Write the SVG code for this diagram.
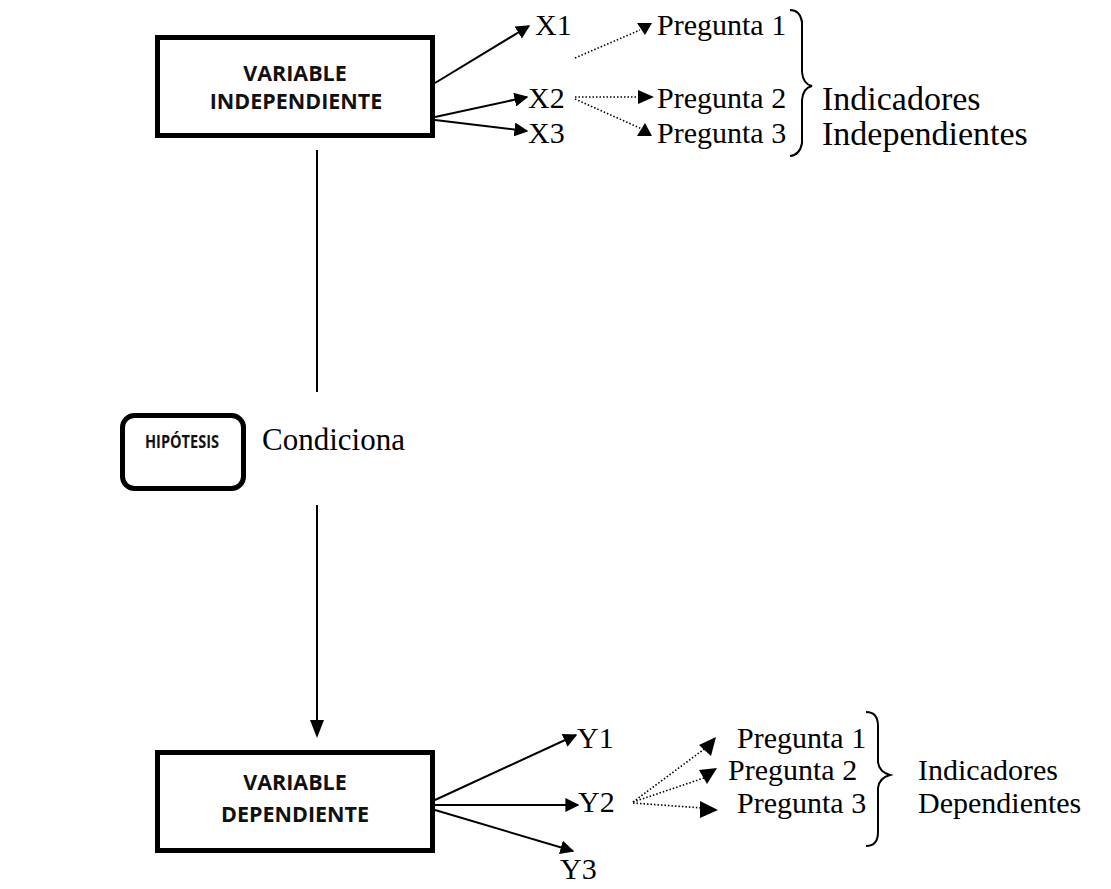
<svg xmlns="http://www.w3.org/2000/svg" width="1111" height="889" viewBox="0 0 1111 889">
<defs>
<style>
.box{fill:#fff;stroke:#000;stroke-width:5}
.bl{font-family:"Open Sans","Liberation Sans",sans-serif;font-weight:700;font-size:21.5px;fill:#111;text-anchor:middle}
.t{font-family:"Liberation Serif","Times New Roman",serif;font-size:30px;fill:#000}
.big{font-size:34px}
.ln{stroke:#000;stroke-width:2;fill:none}
.dt{stroke:#000;stroke-width:1.6;fill:none;stroke-dasharray:1.5 2}
.br{stroke:#000;stroke-width:2;fill:none}
</style>
<marker id="ah" viewBox="0 0 10 10" refX="9" refY="5" markerWidth="7" markerHeight="7" markerUnits="strokeWidth" orient="auto"><path d="M0,0 L10,5 L0,10 z" fill="#000"/></marker>
</defs>
<rect width="1111" height="889" fill="#fff"/>
<g id="var-indep">
<rect class="box" x="157.5" y="37.5" width="275" height="98"/>
<text class="bl" x="295" y="81">VARIABLE</text>
<text class="bl" x="296" y="109">INDEPENDIENTE</text>
</g>
<g id="hipotesis">
<rect class="box" x="122.5" y="415.5" width="121" height="73" rx="12"/>
<text class="bl" x="182" y="448" style="font-size:18px" textLength="74" lengthAdjust="spacingAndGlyphs">HIPÓTESIS</text>
</g>
<g id="var-dep">
<rect class="box" x="157.5" y="752.5" width="275" height="98"/>
<text class="bl" x="295" y="790">VARIABLE</text>
<text class="bl" x="295" y="822">DEPENDIENTE</text>
</g>
<g id="labels-top">
<text class="t" x="535" y="35">X1</text>
<text class="t" x="528" y="108">X2</text>
<text class="t" x="528" y="143">X3</text>
<text class="t" x="657" y="35">Pregunta 1</text>
<text class="t" x="657" y="108">Pregunta 2</text>
<text class="t" x="657" y="143">Pregunta 3</text>
<text class="t big" x="822" y="110">Indicadores</text>
<text class="t big" x="822" y="145">Independientes</text>
</g>
<g id="condiciona">
<text class="t" x="262" y="450" style="font-size:31px">Condiciona</text>
</g>
<g id="labels-bottom">
<text class="t" x="577" y="748">Y1</text>
<text class="t" x="578" y="812">Y2</text>
<text class="t" x="560" y="879">Y3</text>
<text class="t" x="737" y="748">Pregunta 1</text>
<text class="t" x="728" y="780">Pregunta 2</text>
<text class="t" x="737" y="813">Pregunta 3</text>
<text class="t" x="918" y="780">Indicadores</text>
<text class="t" x="918" y="813">Dependientes</text>
</g>
<g id="connectors">
<line class="ln" x1="435" y1="83" x2="529" y2="26" marker-end="url(#ah)"/>
<line class="ln" x1="435" y1="117" x2="527" y2="97" marker-end="url(#ah)"/>
<line class="ln" x1="435" y1="120" x2="527" y2="131" marker-end="url(#ah)"/>
<line class="ln" x1="317" y1="150" x2="317" y2="392"/>
<line class="ln" x1="317" y1="505" x2="317" y2="722"/>
<path d="M310,720 L324,720 L317,738 z" fill="#000"/>
<line class="ln" x1="435" y1="800" x2="576" y2="735" marker-end="url(#ah)"/>
<line class="ln" x1="435" y1="805" x2="578" y2="805" marker-end="url(#ah)"/>
<line class="ln" x1="435" y1="810" x2="573" y2="851" marker-end="url(#ah)"/>
<line class="dt" x1="575" y1="58" x2="640" y2="30"/>
<path d="M637,23 L652,23 L645,35 z" fill="#000"/>
<line class="dt" x1="575" y1="97" x2="640" y2="97"/>
<path d="M638,90 L654,97 L638,104 z" fill="#000"/>
<line class="dt" x1="575" y1="99" x2="642" y2="129"/>
<path d="M637,136 L652,136 L645,123 z" fill="#000"/>
<line class="dt" x1="633" y1="802" x2="707" y2="747"/>
<path d="M699,745 L716,737 L711,756 z" fill="#000"/>
<line class="dt" x1="633" y1="802" x2="704" y2="778"/>
<path d="M699,770 L717,768 L707,784 z" fill="#000"/>
<line class="dt" x1="633" y1="803" x2="702" y2="808"/>
<path d="M700,801 L718,810 L700,818 z" fill="#000"/>
</g>
<g id="braces">
<path class="br" d="M790,10 Q800,10 802,22 L802,72 Q803,84 812,86 Q803,88 802,100 L802,143 Q800,155 790,156"/>
<path class="br" d="M866,712 Q878,712 878,726 L878,762 Q879,772 890,775 Q879,778 878,788 L878,832 Q878,846 866,846"/>
</g>
</svg>
